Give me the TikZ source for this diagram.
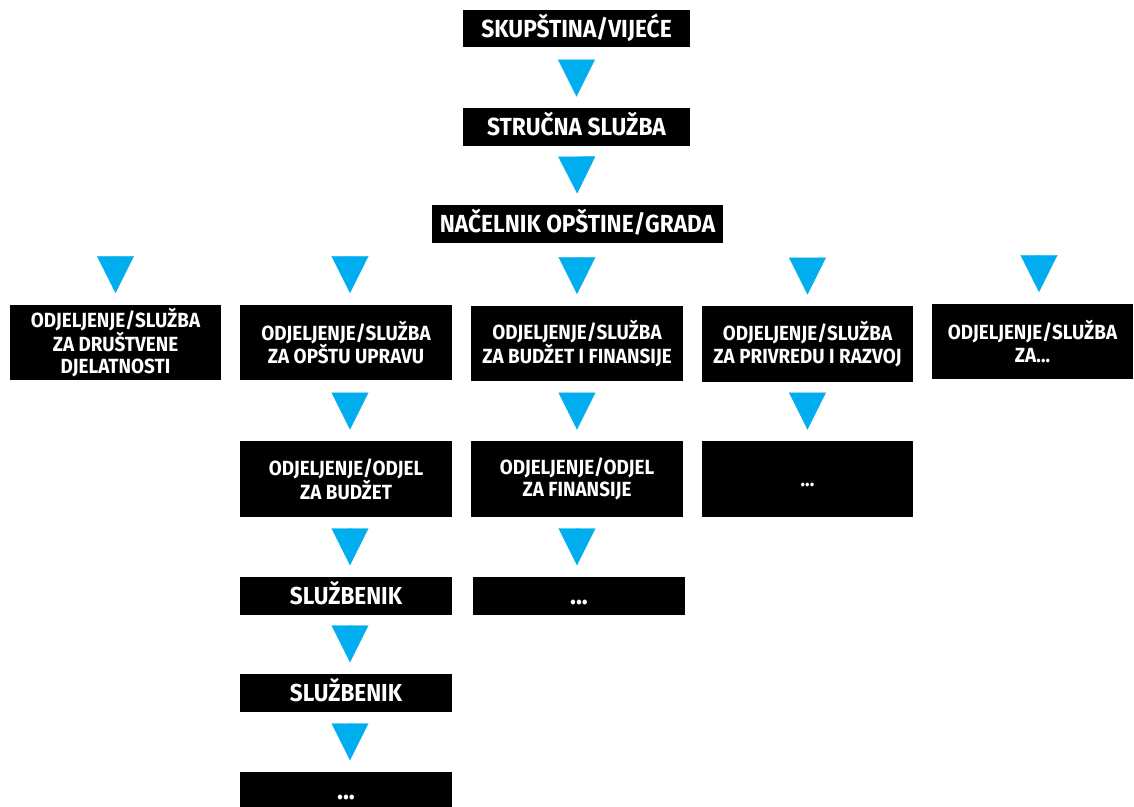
\documentclass[tikz,border=0pt]{standalone}
\usepackage{fontspec}
\usepackage{tikz}
\usetikzlibrary{positioning,calc}
\usetikzlibrary{arrows.meta}
\newfontfamily\natpis{Fira Sans}[FakeStretch=0.92]
\definecolor{plava}{RGB}{0,174,239}
\tikzstyle{kutija} = [rectangle, fill=black, text=white, inner sep=0pt, align=center,
font=\natpis\bfseries\fontsize{20.5}{22.5}\selectfont]
\tikzstyle{glavna} = [kutija, minimum width=227pt, minimum height=37.5pt, text height=17pt, text depth=0pt,
font=\natpis\bfseries\fontsize{24.7}{28}\selectfont]
\tikzstyle{odjeljenje} = [kutija, minimum width=212pt, minimum height=75.5pt]
\tikzstyle{mala} = [kutija, minimum width=212pt, minimum height=38pt, text height=17pt, text depth=0pt,
font=\natpis\bfseries\fontsize{24.5}{28}\selectfont]
\tikzstyle{strelica} = [plava, line width=0.4pt, -{Triangle[length=37pt,width=37pt]},
shorten <=16pt, shorten >=11.5pt]

\begin{document}
\begin{tikzpicture}[x=1pt,y=-1pt]
\useasboundingbox (0,0) rectangle (1134,806);
% vrh
\node (skupstina) at (576.5,28.5) [glavna] {SKUPŠTINA/VIJEĆE};
\node (strucna) at (576.5,127) [glavna] {STRUČNA SLUŽBA};
\node (nacelnik) at (577.5,224) [glavna, minimum width=291pt] {NAČELNIK OPŠTINE/GRADA};
% odjeljenja
\node (drustvene) at (115.5,342.5) [odjeljenje, minimum width=211pt] {ODJELJENJE/SLUŽBA\\ZA DRUŠTVENE\\DJELATNOSTI};
\node (uprava) at (346,342.5) [odjeljenje] {ODJELJENJE/SLUŽBA\\ZA OPŠTU UPRAVU};
\node (finansije) at (577,343.5) [odjeljenje] {ODJELJENJE/SLUŽBA\\ZA BUDŽET I FINANSIJE};
\node (privreda) at (807.5,344) [odjeljenje, minimum width=211pt] {ODJELJENJE/SLUŽBA\\ZA PRIVREDU I RAZVOJ};
\node (ostalo) at (1032.5,341.5) [odjeljenje, minimum width=201pt] {ODJELJENJE/SLUŽBA\\ZA...};
% odjeli
\node (budzet) at (346,479) [odjeljenje] {ODJELJENJE/ODJEL\\ZA BUDŽET};
\node (odjelfin) at (577,479) [odjeljenje] {ODJELJENJE/ODJEL\\ZA FINANSIJE};
\node (privodjel) at (807.5,479) [odjeljenje, minimum width=211pt, text height=14pt, text depth=0pt] {...};
% sluzbenici
\node (sluzbenik1) at (346,596) [mala] {SLUŽBENIK};
\node (finostalo) at (579,596) [mala, font=\natpis\bfseries\fontsize{27}{30}\selectfont] {...};
\node (sluzbenik2) at (346,693) [mala] {SLUŽBENIK};
\node (upravostalo) at (346,791) [mala, font=\natpis\bfseries\fontsize{27}{30}\selectfont] {...};
% strelice
\draw[strelica] (skupstina) -- (strucna);
\draw[strelica] (strucna) -- (nacelnik);
\draw[strelica] (nacelnik.south -| drustvene) -- (drustvene);
\draw[strelica] ([xshift=4pt]nacelnik.south -| uprava) -- ([xshift=4pt]uprava.north);
\draw[strelica] (nacelnik.south -| finansije) -- (finansije);
\draw[strelica] (nacelnik.south -| privreda) -- (privreda);
\draw[strelica] ([xshift=6.5pt]nacelnik.south -| ostalo) -- ([xshift=6.5pt]ostalo.north);
\foreach \a/\b in {uprava/budzet, budzet/sluzbenik1, sluzbenik1/sluzbenik2, sluzbenik2/upravostalo}
  \draw[strelica] ([xshift=4pt]\a.south) -- ([xshift=4pt]\b.north);
\draw[strelica] (finansije) -- (odjelfin);
\draw[strelica] (odjelfin.south) -- (odjelfin.south |- finostalo.north);
\draw[strelica] (privreda) -- (privodjel);
\end{tikzpicture}
\end{document}
